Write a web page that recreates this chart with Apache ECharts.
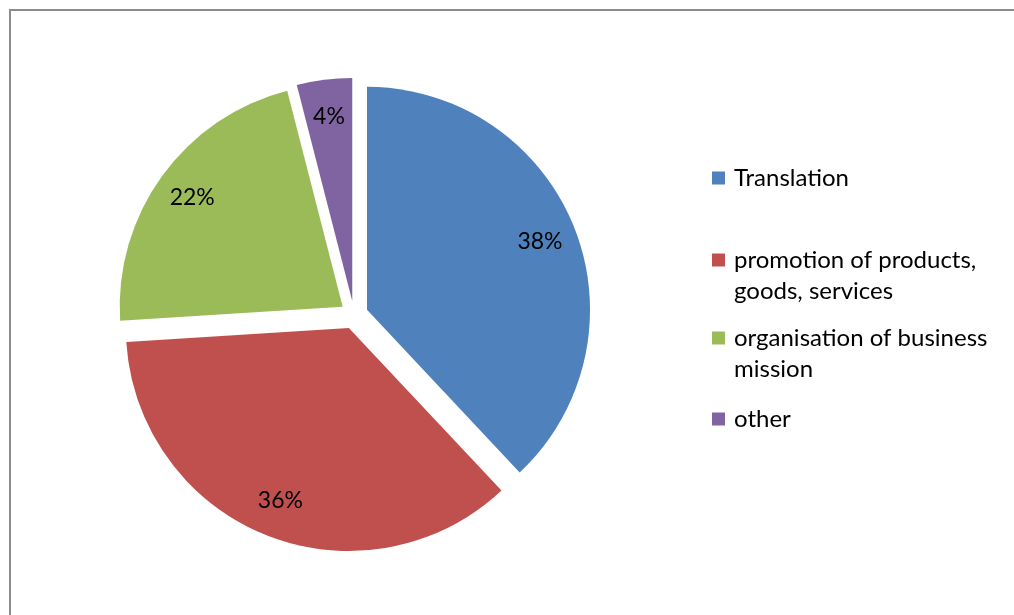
<!DOCTYPE html>
<html>
<head>
<meta charset="utf-8">
<script src="https://cdn.jsdelivr.net/npm/echarts@6/dist/echarts.min.js"></script>
<style>
  html, body { margin: 0; padding: 0; background: #fff; }
  #chart { width: 1014px; height: 615px; }
</style>
</head>
<body>
<div id="chart"></div>
<script>
// Share of activities (percent)
const categories = [
  'Translation',
  'promotion of products, goods, services',
  'organisation of business mission',
  'other'
];
const legendLines = [
  ['Translation'],
  ['promotion of products,', 'goods, services'],
  ['organisation of business', 'mission'],
  ['other']
];
const shares = [38, 36, 22, 4];
const colors = ['#4F81BD', '#C0504D', '#9BBB59', '#8064A2'];

const FONT = 'Lato, "Liberation Sans", sans-serif';
const CENTER = [354, 315];
const RADIUS = 223;
const EXPLODE = 14;
const LINE_H = 31;
const legendCenters = [178, 260, 338, 419];

const chart = echarts.init(document.getElementById('chart'), null, { renderer: 'canvas' });

const sliceData = categories.map((name, i) => ({
  name,
  value: shares[i],
  selected: true,
  itemStyle: { color: colors[i] }
}));

// transparent ring carrying the percentage labels a little further out
const labelData = categories.map((name, i) => ({
  name,
  value: shares[i],
  selected: true,
  itemStyle: { color: 'rgba(0,0,0,0)' }
}));

const legends = categories.map((name, i) => {
  const lines = legendLines[i];
  const multi = lines.length > 1;
  return {
    data: [name],
    orient: 'vertical',
    left: 712,
    top: legendCenters[i] - (multi ? 1.5 : 0.5) * LINE_H,
    padding: 0,
    icon: 'rect',
    itemWidth: 13,
    itemHeight: 13,
    selectedMode: false,
    formatter: () => (multi ? '\n' : '') + lines.join('\n'),
    textStyle: {
      fontFamily: FONT,
      fontSize: 24,
      lineHeight: LINE_H,
      color: '#000',
      padding: [0, 0, 0, 4]
    }
  };
});

chart.setOption({
  animation: false,
  backgroundColor: '#fff',
  graphic: [{
    type: 'rect',
    shape: { x: 10, y: 10, width: 1100, height: 700 },
    style: { fill: 'none', stroke: '#8c8c8c', lineWidth: 2 },
    silent: true
  }],
  legend: legends,
  series: [
    {
      type: 'pie',
      center: CENTER,
      radius: [0, RADIUS],
      startAngle: 90,
      clockwise: true,
      selectedMode: 'multiple',
      selectedOffset: EXPLODE,
      avoidLabelOverlap: false,
      label: { show: false },
      labelLine: { show: false },
      emphasis: { disabled: true },
      select: { itemStyle: { borderWidth: 0 } },
      itemStyle: { borderWidth: 0 },
      silent: true,
      data: sliceData
    },
    {
      type: 'pie',
      center: CENTER,
      radius: [143, RADIUS],
      startAngle: 90,
      clockwise: true,
      selectedMode: 'multiple',
      selectedOffset: EXPLODE,
      avoidLabelOverlap: false,
      legendHoverLink: false,
      label: {
        show: true,
        position: 'inside',
        formatter: '{d}%',
        fontFamily: FONT,
        fontSize: 23,
        color: '#000'
      },
      labelLine: { show: false },
      emphasis: { disabled: true },
      silent: true,
      data: labelData
    }
  ]
});
</script>
</body>
</html>
